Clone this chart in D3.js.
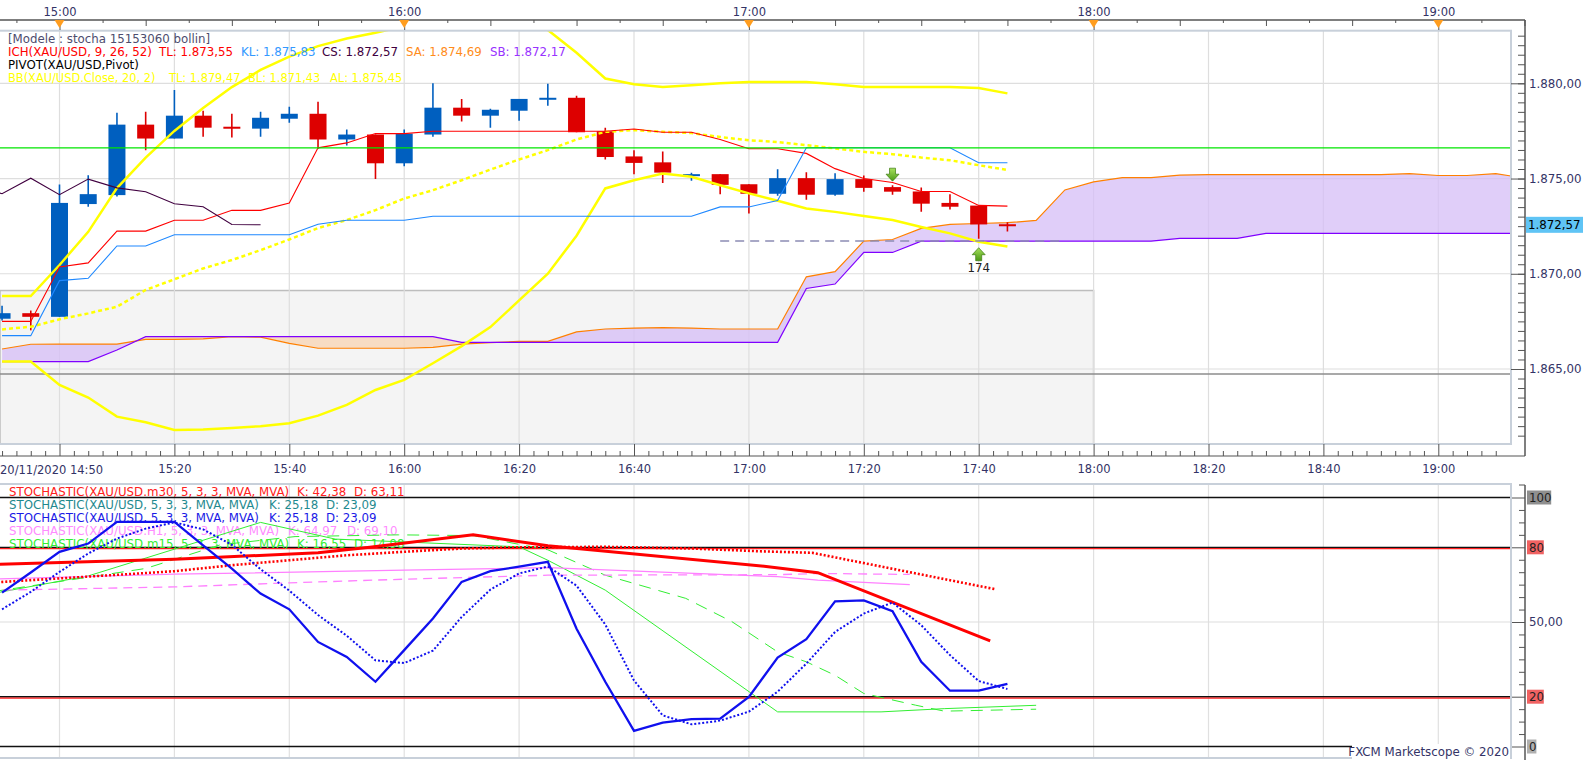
<!DOCTYPE html>
<html>
<head>
<meta charset="utf-8">
<script src="https://cdn.jsdelivr.net/npm/d3@7"></script>
<style>
  body { margin: 0; background: #fff; overflow: hidden; }
  svg { display: block; font-family: "DejaVu Sans", Verdana, sans-serif; }
</style>
</head>
<body>
<svg id="chart" width="1583" height="760"></svg>
<script>
// ---- data (XAU/USD m5, 20/11/2020) ----
const candleTimes = ["14:50","14:55","15:00","15:05","15:10","15:15","15:20","15:25","15:30","15:35","15:40","15:45",
  "15:50","15:55","16:00","16:05","16:10","16:15","16:20","16:25","16:30","16:35","16:40","16:45",
  "16:50","16:55","17:00","17:05","17:10","17:15","17:20","17:25","17:30","17:35","17:40","17:45"];
const opens  = [1867.64,1867.93,1867.74,1873.66,1874.13,1877.83,1877.10,1878.30,1877.72,1877.62,1878.14,1878.40,
  1877.05,1877.31,1875.80,1877.31,1878.72,1878.30,1878.56,1879.17,1879.24,1877.48,1876.16,1875.85,
  1875.17,1875.23,1874.70,1874.20,1875.02,1874.15,1874.97,1874.55,1874.32,1873.72,1873.58,1872.60];
const highs  = [1868.32,1868.07,1874.69,1875.17,1878.45,1878.51,1879.65,1878.56,1878.40,1878.51,1878.77,1879.03,
  1877.57,1877.31,1877.57,1880.00,1879.18,1878.66,1879.18,1879.97,1879.34,1877.66,1876.48,1876.42,
  1875.31,1875.23,1874.70,1875.49,1875.33,1875.28,1875.16,1874.65,1874.53,1874.18,1873.58,1872.71];
const lows   = [1867.55,1867.03,1867.74,1873.52,1874.06,1876.49,1877.10,1877.20,1877.15,1877.20,1877.93,1876.56,
  1876.74,1874.97,1875.64,1877.20,1877.99,1877.67,1878.04,1878.82,1877.43,1876.00,1875.23,1874.76,
  1874.88,1874.18,1873.16,1874.10,1873.89,1874.10,1874.31,1874.15,1873.26,1873.37,1871.84,1872.22];
const closes = [1867.93,1867.74,1873.72,1874.18,1877.83,1877.10,1878.30,1877.67,1877.66,1878.19,1878.40,1877.05,
  1877.31,1875.80,1877.36,1878.72,1878.30,1878.61,1879.18,1879.24,1877.43,1876.13,1875.82,1875.31,
  1875.23,1874.67,1874.20,1875.02,1874.15,1874.97,1874.51,1874.31,1873.68,1873.52,1872.59,1872.57];

const tenkan = [1867.50,1867.50,1870.36,1870.57,1872.24,1872.24,1872.81,1872.81,1873.33,1873.33,1873.72,1876.61,
  1876.87,1877.36,1877.36,1877.48,1877.48,1877.48,1877.48,1877.48,1877.48,1877.48,1877.60,1877.43,
  1877.43,1877.05,1876.56,1876.56,1876.32,1875.52,1875.00,1874.79,1874.32,1874.32,1873.59,1873.55];
const kijun = [1866.75,1866.75,1869.64,1869.76,1871.46,1871.46,1872.05,1872.05,1872.05,1872.05,1872.05,1872.60,
  1872.81,1872.81,1872.81,1873.02,1873.02,1873.02,1873.02,1873.02,1873.02,1873.02,1873.02,1873.02,
  1873.02,1873.51,1873.51,1873.85,1876.62,1876.62,1876.62,1876.62,1876.62,1876.62,1875.83,1875.83];

// cloud, 14:50 .. 19:15 every 5 minutes
const senkouA = [1866.05,1866.30,1866.31,1866.31,1866.31,1866.56,1866.56,1866.58,1866.70,1866.67,1866.35,1866.09,
  1866.09,1866.09,1866.09,1866.14,1866.31,1866.38,1866.45,1866.45,1866.95,1867.10,1867.15,1867.17,
  1867.15,1867.10,1867.10,1867.10,1869.84,1870.11,1871.71,1871.80,1872.38,1872.59,1872.64,1872.68,
  1872.80,1874.40,1874.82,1875.05,1875.05,1875.18,1875.21,1875.21,1875.21,1875.21,1875.21,1875.21,
  1875.21,1875.26,1875.16,1875.16,1875.26,1875.02];
const senkouB = [1865.39,1865.39,1865.39,1865.39,1866.00,1866.70,1866.70,1866.70,1866.70,1866.70,1866.70,1866.70,
  1866.70,1866.70,1866.70,1866.70,1866.40,1866.40,1866.40,1866.40,1866.40,1866.40,1866.40,1866.40,
  1866.40,1866.40,1866.40,1866.40,1869.23,1869.46,1871.12,1871.12,1871.71,1871.71,1871.71,1871.71,
  1871.71,1871.71,1871.71,1871.71,1871.71,1871.86,1871.86,1871.86,1872.12,1872.12,1872.12,1872.12,
  1872.12,1872.12,1872.12,1872.12,1872.12,1872.12];

const bbUpper = [1868.83,1868.83,1870.46,1872.20,1874.50,1876.10,1877.50,1878.70,1879.80,1880.70,1881.40,1881.95,
  1882.35,1882.65,1883.00,1883.30,1883.50,1883.60,1883.40,1882.80,1881.60,1880.25,1879.95,1879.80,
  1879.90,1880.00,1880.07,1880.07,1880.07,1879.95,1879.80,1879.80,1879.80,1879.80,1879.75,1879.47];
const bbMiddle = [1867.08,1867.22,1867.61,1867.92,1868.27,1869.15,1869.71,1870.28,1870.72,1871.24,1871.80,1872.40,
  1872.82,1873.34,1873.95,1874.39,1874.91,1875.47,1876.00,1876.49,1877.05,1877.45,1877.54,1877.45,
  1877.39,1877.18,1877.01,1876.92,1876.75,1876.58,1876.40,1876.28,1876.10,1875.96,1875.70,1875.45];
const bbLower = [1865.39,1865.39,1864.16,1863.50,1862.50,1862.20,1861.80,1861.82,1861.90,1862.00,1862.15,1862.55,
  1863.12,1863.90,1864.43,1865.30,1866.20,1867.20,1868.60,1870.00,1872.00,1874.48,1874.91,1875.26,
  1875.09,1874.65,1874.22,1873.83,1873.43,1873.25,1873.03,1872.82,1872.46,1872.12,1871.68,1871.43];

const pivotLevel = 1876.61;
const supportLevel = 1864.74;
const boxTop = 1869.12;
const pendingLevel = 1871.72;

// stochastic panel
const m5K = [61.8,69.9,78.2,81.5,90.2,90.2,90.2,80.8,71.4,61.4,55.1,42.0,36.0,26.0,38.7,51.4,66.1,70.4,
  72.2,74.2,47.3,26.0,6.3,9.6,11.0,11.2,19.9,35.7,43.1,58.3,58.7,54.3,34.0,22.4,22.4,25.18];
const m5D = [55.1,62.1,70.1,77.5,83.5,87.5,90.0,87.2,81.0,71.2,62.6,52.8,44.5,34.6,33.5,38.5,52.0,63.0,
  69.5,72.3,64.6,49.0,26.5,12.5,8.9,10.4,14.0,22.0,33.3,46.0,53.4,57.8,48.7,36.7,26.3,23.09];
const m30K = [["14:45",72.9],["15:20",75.2],["15:45",77.8],["15:54",80.0],["16:12",85.0],["16:25",80.6],
  ["17:03",72.3],["17:12",69.8],["17:42",42.38]];
const m30D = [["14:45",65.4],["15:00",67.5],["15:20",70.4],["15:30",72.8],["15:40",74.8],["15:50",76.8],
  ["16:00",78.2],["16:10",79.5],["16:20",80.0],["16:35",80.2],["16:50",79.5],["17:02",78.4],["17:11",77.8],["17:43",63.11]];
const h1K = [["14:45",67.0],["15:20",69.2],["16:00",70.8],["16:25",71.8],["17:05",68.2],["17:12",66.8],["17:28",64.97]];
const h1D = [["14:45",62.7],["15:00",63.2],["15:20",64.1],["15:40",65.7],["16:00",67.2],["16:25",68.8],
  ["17:05",69.0],["17:12",69.5],["17:28",69.10]];
const m15K = [["14:45",60.0],["15:05",68.5],["15:35",90.0],["15:48",83.3],["16:20",80.2],["16:25",74.8],
  ["16:35",62.8],["17:05",13.9],["17:23",13.9],["17:34",15.2],["17:50",16.55]];
const m15D = [["14:45",61.0],["15:15",71.5],["15:28",81.0],["15:41",84.3],["15:59",85.0],["16:12",84.7],
  ["16:25",79.0],["16:35",68.8],["16:49",59.5],["16:57",50.2],["17:05",38.0],["17:10",34.0],["17:15",28.6],
  ["17:20",21.3],["17:29",16.6],["17:34",14.2],["17:50",14.98]];

// legends
const mainLegend = [
  [{t:"[Modele : stocha 15153060 bollin]", x:8, c:"#4d4d6e"}],
  [{t:"ICH(XAU/USD, 9, 26, 52)", x:8, c:"#ff0000"}, {t:"TL: 1.873,55", x:159, c:"#ff0000"},
   {t:"KL: 1.875,83", x:241, c:"#3399ff"}, {t:"CS: 1.872,57", x:322, c:"#400040"},
   {t:"SA: 1.874,69", x:406, c:"#ff8c1a"}, {t:"SB: 1.872,17", x:490, c:"#9933ff"}],
  [{t:"PIVOT(XAU/USD,Pivot)", x:8, c:"#000000"}],
  [{t:"BB(XAU/USD.Close, 20, 2)", x:8, c:"#ffff00"}, {t:"TL: 1.879,47", x:169, c:"#ffff00"},
   {t:"BL: 1.871,43", x:248, c:"#ffff00"}, {t:"AL: 1.875,45", x:330, c:"#ffff00"}]
];
const mainLegendSize = [11.8, 11.8, 11.8, 11.4];
const stochLegend = [
  [{t:"STOCHASTIC(XAU/USD.m30, 5, 3, 3, MVA, MVA)", x:9, c:"#ff2020"}, {t:"K: 42,38", x:297, c:"#ff2020"}, {t:"D: 63,11", x:354, c:"#ff2020"}],
  [{t:"STOCHASTIC(XAU/USD, 5, 3, 3, MVA, MVA)", x:9, c:"#1f8a8f"}, {t:"K: 25,18", x:269, c:"#1f8a8f"}, {t:"D: 23,09", x:326, c:"#1f8a8f"}],
  [{t:"STOCHASTIC(XAU/USD, 5, 3, 3, MVA, MVA)", x:9, c:"#1a1ae6"}, {t:"K: 25,18", x:269, c:"#1a1ae6"}, {t:"D: 23,09", x:326, c:"#1a1ae6"}],
  [{t:"STOCHASTIC(XAU/USD.H1, 5, 3, 3, MVA, MVA)", x:9, c:"#ff8cff"}, {t:"K: 64,97", x:288, c:"#ff8cff"}, {t:"D: 69,10", x:347, c:"#ff8cff"}],
  [{t:"STOCHASTIC(XAU/USD.m15, 5, 3, 3, MVA, MVA)", x:9, c:"#33ee33"}, {t:"K: 16,55", x:297, c:"#33ee33"}, {t:"D: 14,98", x:354, c:"#33ee33"}]
];

// ---- layout ----
const T = s => { const [h, m] = s.split(":").map(Number); return new Date(2020, 10, 20, h, m); };
const plot = {l: 0, r: 1511, t: 30.7, b: 444};
const sub = {t: 484, b: 758};
const axisX = 1525;
const axisText = "#333366";
const frame = "#c8d0da";

const x = d3.scaleTime().domain([T("15:00"), T("19:00")]).range([59.5, 1438.3]);
const y = d3.scaleLinear().domain([1865, 1880]).range([369, 83.3]);
const ys = d3.scaleLinear().domain([0, 100]).range([746.5, 497.5]);

const loc = d3.formatLocale({decimal: ",", thousands: ".", grouping: [3], currency: ["", ""]});
const priceFmt = loc.format(",.2f");

const svg = d3.select("#chart");
const defs = svg.append("defs");
defs.append("clipPath").attr("id", "clipMain").append("rect")
  .attr("x", plot.l).attr("y", plot.t).attr("width", plot.r - plot.l).attr("height", plot.b - plot.t);
defs.append("clipPath").attr("id", "clipSub").append("rect")
  .attr("x", plot.l).attr("y", sub.t).attr("width", plot.r - plot.l).attr("height", sub.b - sub.t);

const candles = candleTimes.map((t, i) => ({t: T(t), o: opens[i], h: highs[i], l: lows[i], c: closes[i]}));
const cloudTimes = senkouA.map((d, i) => d3.timeMinute.offset(T("14:50"), 5 * i));
const cloud = cloudTimes.map((t, i) => ({t: t, a: senkouA[i], b: senkouB[i]}));
const gridTimes = d3.range(13).map(i => d3.timeMinute.offset(T("15:00"), 20 * i));

// ---- main panel ----
const main = svg.append("g").attr("clip-path", "url(#clipMain)");

main.append("rect").attr("x", 0).attr("y", y(boxTop)).attr("width", x(T("18:00")))
  .attr("height", plot.b - y(boxTop) + 2).attr("fill", "#f4f4f4").attr("stroke", "#bdbdbd").attr("stroke-width", 1.5);

main.append("g").selectAll("line").data(gridTimes).join("line")
  .attr("x1", d => x(d)).attr("x2", d => x(d)).attr("y1", plot.t).attr("y2", plot.b)
  .attr("stroke", "#dedede").attr("stroke-width", 1.2);
main.append("g").selectAll("line").data([1865, 1870, 1875, 1880]).join("line")
  .attr("x1", plot.l).attr("x2", plot.r).attr("y1", d => y(d)).attr("y2", d => y(d))
  .attr("stroke", "#dedede").attr("stroke-width", 1.2);

main.append("line").attr("x1", plot.l).attr("x2", plot.r).attr("y1", y(supportLevel)).attr("y2", y(supportLevel))
  .attr("stroke", "#8c8c8c").attr("stroke-width", 1.5);

// legend text (drawn under the lines)
mainLegend.forEach((row, r) => {
  row.forEach(s => {
    svg.append("text").attr("x", s.x).attr("y", 39 + r * 13.1).attr("dy", "0.36em")
      .attr("font-size", mainLegendSize[r]).attr("fill", s.c).text(s.t);
  });
});

// cloud fills: lavender where A above B, peach where B above A
const aboveB = d3.area().x(d => x(d.t)).y0(0).y1(d => y(d.b));
const belowB = d3.area().x(d => x(d.t)).y0(800).y1(d => y(d.b));
defs.append("clipPath").attr("id", "clipAboveB").append("path").attr("d", aboveB(cloud));
defs.append("clipPath").attr("id", "clipBelowB").append("path").attr("d", belowB(cloud));
const between = d3.area().x(d => x(d.t)).y0(d => y(d.b)).y1(d => y(d.a));
main.append("g").attr("clip-path", "url(#clipAboveB)").append("path").attr("d", between(cloud))
  .attr("fill", "#d6bdf7").attr("fill-opacity", 0.75);
main.append("g").attr("clip-path", "url(#clipBelowB)").append("path").attr("d", between(cloud))
  .attr("fill", "#f8d6b6").attr("fill-opacity", 0.8);

const tline = key => d3.line().x(d => x(d.t)).y(d => y(d[key]));
main.append("path").attr("d", tline("a")(cloud)).attr("fill", "none").attr("stroke", "#ff8000").attr("stroke-width", 1.2);
main.append("path").attr("d", tline("b")(cloud)).attr("fill", "none").attr("stroke", "#7f00ff").attr("stroke-width", 1.2);

const series = vals => candles.map((d, i) => ({t: d.t, v: vals[i]}));
const vline = d3.line().x(d => x(d.t)).y(d => y(d.v));

// candles
const cg = main.append("g");
candles.forEach(d => {
  const col = d.c >= d.o ? "#005fbf" : "#dd0000";
  const cx = x(d.t);
  cg.append("line").attr("x1", cx).attr("x2", cx).attr("y1", y(d.h)).attr("y2", y(d.l))
    .attr("stroke", col).attr("stroke-width", 1.6);
  const top = y(Math.max(d.o, d.c));
  const h = Math.max(2, Math.abs(y(d.o) - y(d.c)));
  cg.append("rect").attr("x", cx - 8.5).attr("y", top).attr("width", 17).attr("height", h).attr("fill", col);
});

// Bollinger
main.append("path").attr("d", vline(series(bbUpper))).attr("fill", "none").attr("stroke", "#ffff00").attr("stroke-width", 2.5);
main.append("path").attr("d", vline(series(bbLower))).attr("fill", "none").attr("stroke", "#ffff00").attr("stroke-width", 2.5);
main.append("path").attr("d", vline(series(bbMiddle))).attr("fill", "none").attr("stroke", "#ffff00")
  .attr("stroke-width", 2.5).attr("stroke-dasharray", "4,3");

// Ichimoku lines
main.append("path").attr("d", vline(series(tenkan))).attr("fill", "none").attr("stroke", "#ff0000").attr("stroke-width", 1.1);
main.append("path").attr("d", vline(series(kijun))).attr("fill", "none").attr("stroke", "#1e88ff").attr("stroke-width", 1.1);
const chikou = candles.map(d => ({t: d3.timeMinute.offset(d.t, -130), v: d.c}));
main.append("path").attr("d", vline(chikou)).attr("fill", "none").attr("stroke", "#400040").attr("stroke-width", 1.1);

// pivot and pending line
main.append("line").attr("x1", plot.l).attr("x2", plot.r).attr("y1", y(pivotLevel)).attr("y2", y(pivotLevel))
  .attr("stroke", "#00e600").attr("stroke-width", 1.3);
main.append("line").attr("x1", x(T("16:55"))).attr("x2", x(T("17:55"))).attr("y1", y(pendingLevel)).attr("y2", y(pendingLevel))
  .attr("stroke", "#8c8cb4").attr("stroke-width", 1.3).attr("stroke-dasharray", "9,6");

// signal arrows
const grad = defs.append("linearGradient").attr("id", "arrowGrad").attr("x1", 0).attr("x2", 0).attr("y1", 0).attr("y2", 1);
grad.append("stop").attr("offset", "0%").attr("stop-color", "#a6e05c");
grad.append("stop").attr("offset", "100%").attr("stop-color", "#4c9a16");
const sell = candles[candleTimes.indexOf("17:25")];
const buy = candles[candleTimes.indexOf("17:40")];
{
  const cx = x(sell.t), tip = y(sell.h) - 4;
  main.append("path").attr("d", `M${cx - 3},${tip - 13} L${cx + 3},${tip - 13} L${cx + 3},${tip - 7} L${cx + 6.5},${tip - 7} L${cx},${tip} L${cx - 6.5},${tip - 7} L${cx - 3},${tip - 7} Z`)
    .attr("fill", "url(#arrowGrad)").attr("stroke", "#3b7a10").attr("stroke-width", 0.7);
}
{
  const cx = x(buy.t), tip = y(buy.l) + 9;
  main.append("path").attr("d", `M${cx},${tip} L${cx + 6.5},${tip + 7} L${cx + 3},${tip + 7} L${cx + 3},${tip + 13} L${cx - 3},${tip + 13} L${cx - 3},${tip + 7} L${cx - 6.5},${tip + 7} Z`)
    .attr("fill", "url(#arrowGrad)").attr("stroke", "#3b7a10").attr("stroke-width", 0.7);
  main.append("text").attr("x", cx).attr("y", tip + 20).attr("dy", "0.36em").attr("text-anchor", "middle")
    .attr("font-size", 11.8).attr("fill", "#222").text("174");
}

// plot frame
svg.append("rect").attr("x", plot.l - 2).attr("y", plot.t).attr("width", plot.r - plot.l + 2).attr("height", plot.b - plot.t)
  .attr("fill", "none").attr("stroke", frame).attr("stroke-width", 2);

// ---- top time axis ----
svg.append("line").attr("x1", 0).attr("x2", axisX).attr("y1", 20).attr("y2", 20).attr("stroke", "#555").attr("stroke-width", 1.5);
const topMinor = d3.range(-1, 35).filter(i => i % 8 !== 0).map(i => d3.timeSecond.offset(T("15:00"), i * 450));
svg.append("g").attr("transform", "translate(0,20)")
  .call(d3.axisTop(x).tickValues(topMinor).tickSize(-3).tickFormat(""))
  .call(g => g.select(".domain").remove())
  .call(g => g.selectAll(".tick line").attr("stroke", "#555")
    .attr("y2", d => (d.getMinutes() % 15 === 0 && d.getSeconds() === 0) ? 6 : 3));
const hours = [T("15:00"), T("16:00"), T("17:00"), T("18:00"), T("19:00")];
svg.append("g").attr("transform", "translate(0,20)")
  .call(d3.axisTop(x).tickValues(hours).tickSize(-10).tickPadding(4).tickFormat(d3.timeFormat("%H:%M")))
  .call(g => g.select(".domain").remove())
  .call(g => g.selectAll(".tick line").attr("stroke", "#555"))
  .call(g => g.selectAll(".tick text").attr("font-size", 11.5).attr("fill", axisText).attr("font-family", "DejaVu Sans"));
svg.append("g").selectAll("path").data(hours).join("path")
  .attr("d", d => `M${x(d) - 5},20 L${x(d) + 5},20 L${x(d)},28 Z`).attr("fill", "#ff9d1f");

// ---- bottom time axis of main panel ----
svg.append("line").attr("x1", 0).attr("x2", axisX).attr("y1", 456).attr("y2", 456).attr("stroke", "#555").attr("stroke-width", 1.2);
const botTicks = d3.range(0, 105).map(i => d3.timeSecond.offset(T("14:50"), i * 150));
svg.append("g").attr("transform", "translate(0,456)")
  .call(d3.axisBottom(x).tickValues(botTicks).tickSize(-5).tickFormat(""))
  .call(g => g.select(".domain").remove())
  .call(g => g.selectAll(".tick line").attr("stroke", "#555")
    .attr("y2", d => (d.getSeconds() === 0 && d.getMinutes() % 20 === 0) ? -12 : -5));
svg.append("g").attr("transform", "translate(0,456)")
  .call(d3.axisBottom(x).tickValues(gridTimes.slice(1)).tickSize(0).tickPadding(9).tickFormat(d3.timeFormat("%H:%M")))
  .call(g => g.select(".domain").remove())
  .call(g => g.selectAll(".tick text").attr("font-size", 11.5).attr("fill", axisText).attr("font-family", "DejaVu Sans"));
svg.append("text").attr("x", 0).attr("y", 470).attr("dy", "0.36em").attr("font-size", 11.5).attr("fill", axisText)
  .text("20/11/2020 " + d3.timeFormat("%H:%M")(T("14:50")));

// ---- right price axis ----
svg.append("line").attr("x1", axisX).attr("x2", axisX).attr("y1", 20).attr("y2", 456).attr("stroke", "#555").attr("stroke-width", 1.5);
svg.append("g").attr("transform", `translate(${axisX},0)`)
  .call(d3.axisRight(y).tickValues(d3.range(1861.5, 1882.51, 0.5)).tickSize(-7).tickFormat(""))
  .call(g => g.select(".domain").remove())
  .call(g => g.selectAll(".tick line").attr("stroke", "#555"));
svg.append("g").attr("transform", `translate(${axisX},0)`)
  .call(d3.axisRight(y).tickValues([1865, 1870, 1875, 1880]).tickSize(-14).tickPadding(4).tickFormat(priceFmt))
  .call(g => g.select(".domain").remove())
  .call(g => g.selectAll(".tick line").attr("stroke", "#555"))
  .call(g => g.selectAll(".tick text").attr("font-size", 11.8).attr("fill", axisText).attr("font-family", "DejaVu Sans"));
const lastClose = closes[closes.length - 1];
svg.append("rect").attr("x", axisX + 1).attr("y", y(lastClose) - 8).attr("width", 57).attr("height", 16).attr("fill", "#5fc4f5");
svg.append("text").attr("x", axisX + 3).attr("y", y(lastClose)).attr("dy", "0.36em").attr("font-size", 11.8)
  .attr("fill", "#000").text(priceFmt(lastClose));

// ---- stochastic panel ----
const sg = svg.append("g");
sg.append("g").selectAll("line").data(gridTimes).join("line")
  .attr("x1", d => x(d)).attr("x2", d => x(d)).attr("y1", sub.t).attr("y2", sub.b)
  .attr("stroke", "#e0e0e0").attr("stroke-width", 1.2);
sg.append("line").attr("x1", plot.l).attr("x2", plot.r).attr("y1", ys(50)).attr("y2", ys(50)).attr("stroke", "#dedede").attr("stroke-width", 1.2);
[100, 0].forEach(v => sg.append("line").attr("x1", plot.l).attr("x2", plot.r).attr("y1", ys(v)).attr("y2", ys(v))
  .attr("stroke", "#111").attr("stroke-width", 1.5));
[80, 20].forEach(v => {
  sg.append("line").attr("x1", plot.l).attr("x2", plot.r).attr("y1", ys(v) + 1.3).attr("y2", ys(v) + 1.3).attr("stroke", "#ff2020").attr("stroke-width", 1.5);
  sg.append("line").attr("x1", plot.l).attr("x2", plot.r).attr("y1", ys(v)).attr("y2", ys(v)).attr("stroke", "#111").attr("stroke-width", 1.2);
});
sg.append("rect").attr("x", plot.l - 2).attr("y", sub.t).attr("width", plot.r - plot.l + 2).attr("height", sub.b - sub.t)
  .attr("fill", "none").attr("stroke", frame).attr("stroke-width", 2);

stochLegend.forEach((row, r) => {
  row.forEach(s => {
    sg.append("text").attr("x", s.x).attr("y", 491.7 + r * 13).attr("dy", "0.36em")
      .attr("font-size", 11.8).attr("fill", s.c).text(s.t);
  });
});

const sl = sg.append("g").attr("clip-path", "url(#clipSub)");
const pline = d3.line().x(d => x(T(d[0]))).y(d => ys(d[1]));
const cline = d3.line().x((d, i) => x(candles[i].t)).y(d => ys(d));
sl.append("path").attr("d", pline(m15K)).attr("fill", "none").attr("stroke", "#33ee33").attr("stroke-width", 1);
sl.append("path").attr("d", pline(m15D)).attr("fill", "none").attr("stroke", "#33ee33").attr("stroke-width", 1).attr("stroke-dasharray", "12,8");
sl.append("path").attr("d", pline(h1K)).attr("fill", "none").attr("stroke", "#ff80ff").attr("stroke-width", 1.3);
sl.append("path").attr("d", pline(h1D)).attr("fill", "none").attr("stroke", "#ff80ff").attr("stroke-width", 1.3).attr("stroke-dasharray", "9,6");
sl.append("path").attr("d", pline(m30D)).attr("fill", "none").attr("stroke", "#ff0000").attr("stroke-width", 2.6).attr("stroke-dasharray", "2,2");
sl.append("path").attr("d", pline(m30K)).attr("fill", "none").attr("stroke", "#ff0000").attr("stroke-width", 3);
sl.append("path").attr("d", cline(m5D)).attr("fill", "none").attr("stroke", "#1010ee").attr("stroke-width", 2).attr("stroke-dasharray", "2,2");
sl.append("path").attr("d", cline(m5K)).attr("fill", "none").attr("stroke", "#1010ee").attr("stroke-width", 2.3);

// right axis of the stochastic panel
svg.append("line").attr("x1", axisX).attr("x2", axisX).attr("y1", sub.t + 1).attr("y2", 760).attr("stroke", "#555").attr("stroke-width", 1.5);
svg.append("line").attr("x1", axisX - 6).attr("x2", axisX).attr("y1", sub.t + 1).attr("y2", sub.t + 1).attr("stroke", "#555");
svg.append("g").attr("transform", `translate(${axisX},0)`)
  .call(d3.axisRight(ys).tickValues(d3.range(5, 100, 5).filter(v => ![20, 50, 80].includes(v))).tickSize(-6).tickFormat(""))
  .call(g => g.select(".domain").remove())
  .call(g => g.selectAll(".tick line").attr("stroke", "#555"));
const levelBg = {100: "#8f8f8f", 80: "#f06262", 20: "#f06262", 0: "#b0b0b0"};
const levelFmt = v => v === 50 ? loc.format(".2f")(v) : String(v);
[100, 80, 20, 0].forEach(v => {
  const w = String(v).length * 7.4 + 2;
  svg.append("rect").attr("x", axisX + 2).attr("y", ys(v) - 7).attr("width", w).attr("height", 14).attr("fill", levelBg[v]);
});
svg.append("g").attr("transform", `translate(${axisX},0)`)
  .call(d3.axisRight(ys).tickValues([0, 20, 50, 80, 100]).tickSize(-13).tickPadding(4).tickFormat(levelFmt))
  .call(g => g.select(".domain").remove())
  .call(g => g.selectAll(".tick line").attr("stroke", "#555"))
  .call(g => g.selectAll(".tick text").attr("font-size", 11.8).attr("font-family", "DejaVu Sans")
    .attr("fill", d => d === 50 ? axisText : "#222"));

svg.append("rect").attr("x", 1352).attr("y", 744).attr("width", 158).attr("height", 15).attr("fill", "#fff");
svg.append("text").attr("x", 1509).attr("y", 752).attr("dy", "0.36em").attr("text-anchor", "end")
  .attr("font-size", 11.8).attr("fill", axisText).text("FXCM Marketscope © 2020");
</script>
</body>
</html>
